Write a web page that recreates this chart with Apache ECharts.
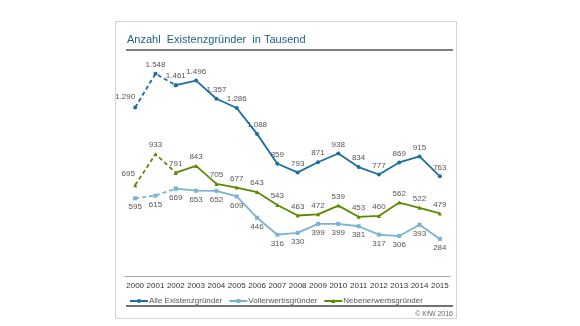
<!DOCTYPE html>
<html><head><meta charset="utf-8">
<script src="https://cdn.jsdelivr.net/npm/echarts@6/dist/echarts.min.js"></script>
<style>html,body{margin:0;padding:0;background:#fff}#c{width:580px;height:326px}</style>
</head><body><div id="c"></div>
<script>
var years = ['2000','2001','2002','2003','2004','2005','2006','2007','2008','2009','2010','2011','2012','2013','2014','2015'];
var alle = [1290,1548,1461,1496,1357,1286,1088,859,793,871,938,834,777,869,915,763];
var voll = [595,615,669,653,652,609,446,316,330,399,399,381,317,306,393,284];
var neben = [695,933,791,843,705,677,643,543,463,472,539,453,460,562,522,479];
var names = ['Alle Existenzgründer','Vollerwerbsgründer','Nebenerwerbsgründer'];
var colors = ['#1b6f9f','#7ab2d2','#5b8a00'];
var symbols = ['circle','rect','triangle'];
var labelPos = ['top','bottom','top'];
var firstOffset = [[-10,-2],[0,0],[-7,-2]];

function fmt(v){ return v>=1000 ? Math.floor(v/1000)+'.'+String(v%1000).padStart(3,'0') : String(v); }

var series = [];
[alle,voll,neben].forEach(function(arr,i){
  var lab = {show:true, position:labelPos[i], distance:3, color:'#555', fontSize:8, fontFamily:'Liberation Sans, Arial', formatter:function(p){return fmt(p.value);}};
  var dashed = arr.map(function(v,k){
    if(k>2) return null;
    if(k===0) return {value:v, label:{offset:firstOffset[i]}};
    if(k===2) return {value:v, label:{show:false}};
    return v;
  });
  var solid = arr.map(function(v,k){return k>=2?v:null;});
  series.push({name:'_d'+i, type:'line', data:dashed, symbol:symbols[i], symbolSize:4, showSymbol:true,
    lineStyle:{color:colors[i], width:1.8, type:[4,3]}, itemStyle:{color:colors[i]},
    label:lab, z:2, animation:false});
  series.push({name:names[i], type:'line', data:solid, symbol:symbols[i], symbolSize:4, showSymbol:true,
    lineStyle:{color:colors[i], width:1.8}, itemStyle:{color:colors[i]}, label:lab, z:3, animation:false});
});

var chart = echarts.init(document.getElementById('c'));
chart.setOption({
  animation:false,
  grid:{left:125, right:130, top:67, bottom:50},
  xAxis:{type:'category', data:years, boundaryGap:true,
    axisLine:{lineStyle:{color:'#aaa', width:1}}, axisTick:{show:false},
    axisLabel:{color:'#333', fontSize:8, fontFamily:'Liberation Sans, Arial', margin:6, interval:0}},
  yAxis:{type:'value', min:0, max:1600, show:false, splitLine:{show:false}},
  legend:{data:names, left:124, top:292, itemWidth:18, itemHeight:5, itemGap:6,
    textStyle:{color:'#555', fontSize:8, fontFamily:'Liberation Sans, Arial', padding:[0,0,0,-4]}},
  graphic:[
    {type:'rect', shape:{x:115.5, y:21.5, width:341, height:297}, style:{fill:'none', stroke:'#d4d4d4', lineWidth:1}, z:-1},
    {type:'text', left:127, top:34, style:{text:'Anzahl  Existenzgründer  in Tausend', fill:'#1f5f8b', fontSize:11, fontFamily:'Liberation Sans, Arial'}},
    {type:'line', shape:{x1:126, y1:50, x2:453, y2:50}, style:{stroke:'#555', lineWidth:1.5}},
    {type:'line', shape:{x1:126, y1:306, x2:453, y2:306}, style:{stroke:'#444', lineWidth:1.5}},
    {type:'text', right:127, top:311, style:{text:'© KfW 2016', fill:'#666', fontSize:7, fontFamily:'Liberation Sans, Arial'}}
  ],
  series:series
});
</script></body></html>
